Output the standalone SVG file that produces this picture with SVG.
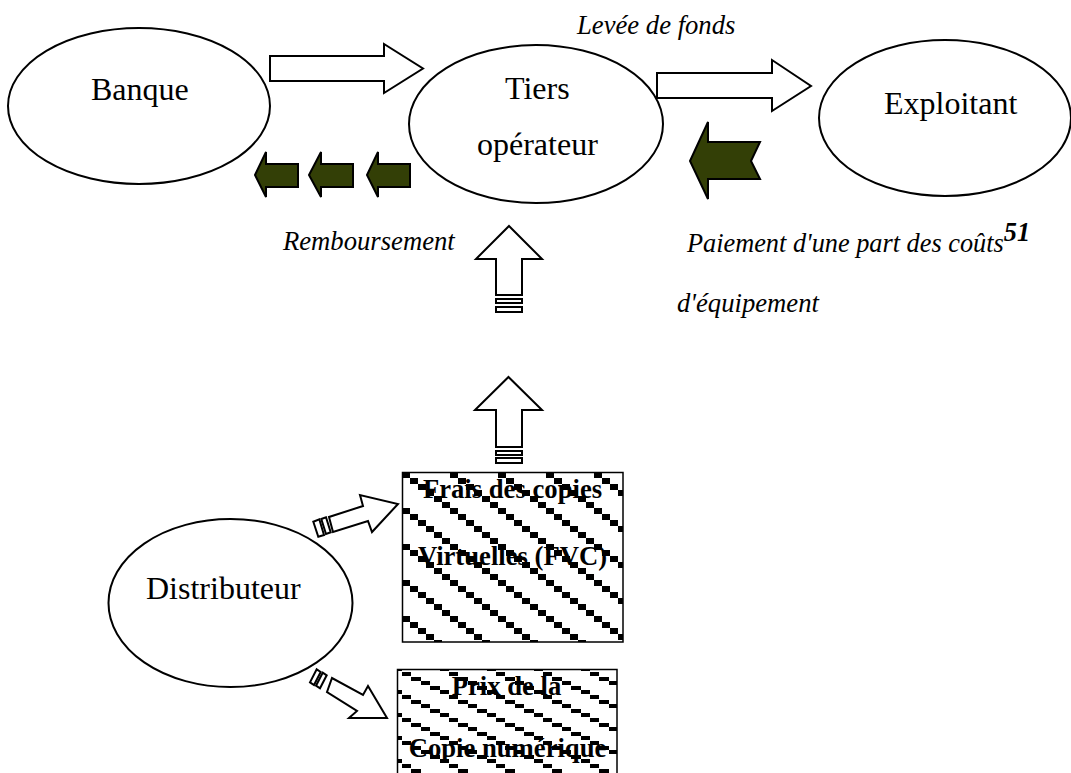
<svg xmlns="http://www.w3.org/2000/svg" width="1071" height="773" viewBox="0 0 1071 773">
<style>
text{font-family:"Liberation Serif","Times New Roman",serif;fill:#000}
.n{font-size:32px}
.i{font-size:26.67px;font-style:italic}
.b{font-size:26.67px;font-weight:bold;text-anchor:middle}
.e{fill:#fff;stroke:#000;stroke-width:2}
.w{fill:#fff;stroke:#000;stroke-width:2;stroke-linejoin:miter}
.s{fill:#fff;stroke:#000;stroke-width:2}
.g{fill:#333f06;stroke:#000;stroke-width:2}
</style>
<defs>
<pattern id="p1" patternUnits="userSpaceOnUse" x="402" y="472" width="48" height="36">
<rect width="48" height="36" fill="#fff"/>
<path shape-rendering="crispEdges" d="M0 0h8v6h-8zM8 6h8v6h-8zM16 12h8v6h-8zM24 18h8v6h-8zM32 24h8v6h-8zM40 30h8v6h-8z" fill="#000"/>
</pattern>
<pattern id="p2" patternUnits="userSpaceOnUse" x="402" y="672" width="47" height="23">
<rect width="47" height="23" fill="#fff"/>
<path shape-rendering="crispEdges" d="M0 0h9.400v4h-9.400zM9.400 4.600h9.400v4h-9.400zM18.800 9.200h9.400v4h-9.400zM28.200 13.800h9.400v4h-9.400zM37.600 18.400h9.400v4h-9.400z" fill="#000"/>
</pattern>
</defs>
<rect width="1071" height="773" fill="#fff"/>
<g id="connectors">
<path class="w" d="M270 56H384V44L423 68.500 384 93V81H270Z"/>
<path class="w" d="M657 73H772V60L811 86 772 111V98H657Z"/>
<path class="g" d="M255 175 266 152V164H298V187H266V197Z"/>
<path class="g" d="M309 175 321 152V164H353V187H321V197Z"/>
<path class="g" d="M367 175 378 152V164H410V187H378V197Z"/>
<path class="g" d="M690 161 708 122V142H760L751 161 760 179H708V199Z"/>
<path class="w" d="M509 226 542 259H522V295H496V259H476Z"/>
<rect class="w" x="496" y="299" width="26" height="4"/>
<rect class="w" x="496" y="307" width="26" height="5"/>
<path class="w" d="M508.500 377 542 410H522V447H496V410H475Z"/>
<rect class="w" x="496" y="451" width="26" height="4"/>
<rect class="w" x="496" y="458" width="26" height="5"/>
<path class="w" d="M398 504 372 532 368 521 333 532 329 517 363 506 360 495Z"/>
<path class="s" d="M313.300 521.700 319.300 519.300 324 535 318.300 536.700Z"/>
<path class="s" d="M321.300 519 326 517.300 330.700 532.300 326 534Z"/>
<path class="w" d="M387 718H349L357 711 327 692 332 678 363 695 368 686Z"/>
<path class="s" d="M316.700 669.300 320.700 672 314 685 310 682.300Z"/>
<path class="s" d="M322.700 672.700 326.700 675.300 320 688.300 316 685.700Z"/>
</g>
<g id="banque"><ellipse class="e" cx="139" cy="106" rx="131" ry="78"/><text class="n" x="91" y="100">Banque</text></g>
<g id="tiers-operateur"><ellipse class="e" cx="536" cy="124" rx="127" ry="79"/><text class="n" x="505" y="99">Tiers</text><text class="n" x="477" y="155">opérateur</text></g>
<g id="exploitant"><ellipse class="e" cx="945" cy="118" rx="126" ry="78"/><text class="n" x="884" y="114">Exploitant</text></g>
<g id="distributeur"><ellipse class="e" cx="230.500" cy="603" rx="122" ry="84"/><text class="n" x="146" y="599">Distributeur</text></g>
<g id="frais-copies"><rect x="402.500" y="472.500" width="220.500" height="169.500" fill="url(#p1)" stroke="#000" stroke-width="1.500"/><text class="b" x="512.500" y="498">Frais des copies</text><text class="b" x="512.500" y="565">Virtuelles (FVC)</text></g>
<g id="prix-copie"><rect x="397.500" y="669.500" width="219.500" height="110" fill="url(#p2)" stroke="#000" stroke-width="1.500"/><text class="b" x="506.500" y="695">Prix de la</text><text class="b" x="507.500" y="757">Copie numérique</text></g>
<g id="labels">
<text class="i" x="577" y="34">Levée de fonds</text>
<text class="i" x="283" y="250">Remboursement</text>
<text class="i" x="687" y="252" style="font-size:26.300px">Paiement d'une part des coûts<tspan dy="-11" font-weight="bold">51</tspan></text>
<text class="i" x="677" y="312">d'équipement</text>
</g>
</svg>
